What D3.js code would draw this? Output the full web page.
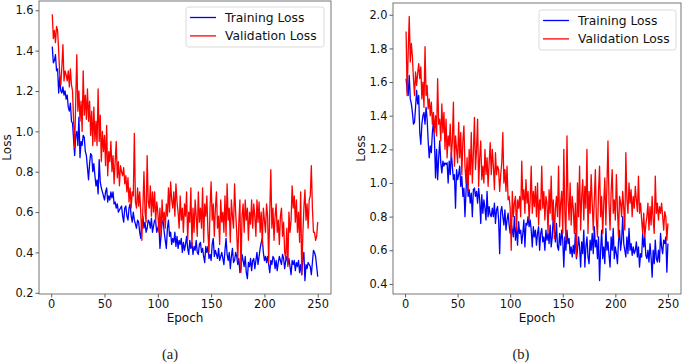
<!DOCTYPE html>
<html>
<head>
<meta charset="utf-8">
<script src="https://cdn.jsdelivr.net/npm/d3@7"></script>
<style>
  body { margin: 0; background: #fff; }
  text { font-family: "DejaVu Sans", sans-serif; }
</style>
</head>
<body>
<div id="chart"></div>
<script>
// loss values per epoch (1..250)
const trainA = [
  1.42,1.34,1.35,1.38,1.30,1.31,1.19,1.27,1.20,1.19,
  1.22,1.18,1.20,1.16,1.18,1.12,1.10,1.14,1.05,1.04,
  0.96,0.88,0.98,1.00,0.93,1.07,0.87,0.95,0.93,0.98,
  0.97,0.90,0.88,0.82,0.76,0.84,0.89,0.88,0.80,0.84,
  0.78,0.73,0.76,0.69,0.86,0.75,0.72,0.70,0.68,0.66,
  0.70,0.72,0.65,0.68,0.66,0.70,0.67,0.70,0.64,0.65,
  0.62,0.64,0.60,0.61,0.62,0.63,0.58,0.55,0.62,0.63,
  0.58,0.56,0.62,0.64,0.58,0.55,0.60,0.56,0.54,0.52,
  0.56,0.55,0.50,0.47,0.55,0.58,0.52,0.55,0.50,0.52,
  0.56,0.55,0.52,0.57,0.50,0.53,0.56,0.55,0.50,0.52,
  0.54,0.42,0.48,0.55,0.56,0.50,0.46,0.42,0.52,0.56,
  0.48,0.50,0.44,0.47,0.45,0.50,0.43,0.48,0.42,0.46,
  0.44,0.47,0.40,0.45,0.41,0.44,0.48,0.42,0.39,0.46,
  0.42,0.45,0.39,0.43,0.41,0.46,0.40,0.39,0.44,0.45,
  0.40,0.42,0.38,0.35,0.43,0.40,0.43,0.37,0.39,0.36,
  0.44,0.47,0.38,0.41,0.39,0.37,0.42,0.36,0.38,0.40,
  0.37,0.34,0.41,0.47,0.39,0.36,0.40,0.32,0.38,0.42,
  0.35,0.36,0.40,0.38,0.34,0.37,0.30,0.32,0.39,0.36,
  0.33,0.38,0.30,0.27,0.35,0.33,0.37,0.31,0.36,0.37,
  0.32,0.36,0.40,0.34,0.38,0.42,0.45,0.47,0.40,0.36,
  0.38,0.35,0.38,0.34,0.30,0.36,0.34,0.38,0.37,0.32,
  0.36,0.31,0.35,0.38,0.36,0.34,0.39,0.37,0.32,0.36,
  0.38,0.34,0.37,0.33,0.29,0.36,0.34,0.36,0.31,0.35,
  0.33,0.36,0.30,0.34,0.29,0.37,0.40,0.26,0.34,0.32,
  0.35,0.34,0.33,0.29,0.35,0.41,0.40,0.38,0.33,0.28
];
const valA = [
  1.58,1.46,1.50,1.44,1.52,1.50,1.40,1.28,1.23,1.32,
  1.43,1.25,1.30,1.28,1.25,1.30,1.22,1.31,1.23,1.20,
  1.05,0.92,1.15,1.38,1.10,1.20,1.05,1.15,1.00,1.30,
  1.08,1.18,1.06,1.21,1.05,1.15,0.98,1.10,0.93,1.12,
  0.95,1.05,0.93,1.21,0.95,1.08,0.85,1.00,0.90,0.98,
  0.83,1.03,0.78,0.90,0.85,0.95,0.80,0.88,0.74,0.85,
  0.95,0.77,0.85,0.73,0.83,0.80,0.78,0.82,0.74,0.78,
  0.70,0.77,0.65,0.72,0.62,0.70,0.68,0.99,0.65,0.62,
  0.72,0.63,0.70,0.60,0.46,0.62,0.80,0.60,0.55,0.88,
  0.65,0.62,0.73,0.58,0.70,0.60,0.70,0.55,0.65,0.60,
  0.50,0.62,0.48,0.66,0.55,0.60,0.52,0.64,0.58,0.72,
  0.60,0.75,0.66,0.62,0.70,0.58,0.74,0.65,0.60,0.52,
  0.68,0.56,0.62,0.50,0.64,0.58,0.70,0.46,0.60,0.55,
  0.72,0.43,0.62,0.50,0.66,0.58,0.48,0.70,0.55,0.62,
  0.52,0.72,0.45,0.64,0.58,0.68,0.50,0.40,0.62,0.75,
  0.56,0.64,0.48,0.62,0.70,0.52,0.58,0.44,0.66,0.55,
  0.60,0.50,0.68,0.48,0.74,0.56,0.62,0.45,0.66,0.58,
  0.52,0.74,0.60,0.50,0.36,0.55,0.66,0.30,0.58,0.64,
  0.50,0.66,0.56,0.62,0.46,0.60,0.54,0.66,0.52,0.64,
  0.58,0.48,0.66,0.55,0.65,0.50,0.60,0.44,0.62,0.56,
  0.50,0.64,0.58,0.35,0.60,0.81,0.52,0.62,0.46,0.58,
  0.64,0.50,0.56,0.44,0.58,0.62,0.48,0.55,0.40,0.37,
  0.52,0.33,0.60,0.50,0.56,0.73,0.62,0.68,0.55,0.66,
  0.50,0.60,0.45,0.70,0.29,0.48,0.62,0.71,0.56,0.64,
  0.52,0.66,0.68,0.83,0.62,0.50,0.50,0.46,0.48,0.55
];
const trainB = [
  1.62,1.55,1.52,1.64,1.50,1.47,1.42,1.35,1.36,1.45,
  1.55,1.47,1.52,1.30,1.23,1.35,1.40,1.42,1.35,1.45,
  1.38,1.25,1.15,1.22,1.18,1.30,1.36,1.25,1.03,1.20,
  1.02,1.15,1.25,1.12,1.06,1.13,1.10,1.12,1.11,1.12,
  1.00,1.13,1.05,1.18,1.10,1.02,1.05,0.85,1.08,1.02,
  1.05,1.10,0.98,1.04,0.92,0.97,0.80,0.95,1.08,0.92,
  0.96,0.88,0.94,0.80,0.96,0.97,0.92,0.95,0.88,0.97,
  0.90,0.76,0.93,0.82,0.90,0.85,0.78,0.95,0.80,0.86,
  0.81,0.80,0.85,0.80,0.88,0.76,0.84,0.86,0.78,0.58,
  0.83,0.86,0.80,0.75,0.84,0.72,0.78,0.82,0.75,0.70,
  0.76,0.72,0.68,0.80,0.66,0.74,0.63,0.77,0.70,0.72,
  0.64,0.70,0.78,0.62,0.76,0.75,0.80,0.74,0.78,0.72,
  0.62,0.74,0.68,0.72,0.63,0.70,0.74,0.60,0.70,0.73,
  0.65,0.68,0.60,0.72,0.66,0.70,0.64,0.75,0.62,0.68,
  0.80,0.72,0.65,0.76,0.62,0.60,0.70,0.63,0.72,0.66,
  0.50,0.68,0.60,0.72,0.64,0.67,0.58,0.62,0.56,0.63,
  0.58,0.70,0.55,0.60,0.68,0.62,0.50,0.65,0.58,0.72,
  0.50,0.62,0.68,0.56,0.52,0.66,0.60,0.70,0.58,0.74,
  0.62,0.66,0.55,0.68,0.42,0.60,0.72,0.55,0.62,0.52,
  0.73,0.60,0.65,0.57,0.50,0.68,0.60,0.73,0.55,0.62,
  0.58,0.52,0.65,0.72,0.60,0.66,0.80,0.64,0.60,0.56,
  0.68,0.58,0.73,0.60,0.64,0.57,0.62,0.58,0.60,0.65,
  0.56,0.62,0.50,0.58,0.56,0.70,0.62,0.68,0.57,0.55,
  0.60,0.53,0.64,0.56,0.44,0.60,0.52,0.66,0.55,0.53,
  0.60,0.53,0.70,0.62,0.58,0.66,0.64,0.68,0.47,0.64
];
const valB = [
  1.90,1.52,1.78,1.99,1.72,1.83,1.75,1.62,1.52,1.66,
  1.58,1.65,1.71,1.62,1.69,1.50,1.60,1.45,1.81,1.52,
  1.58,1.44,1.50,1.40,1.48,1.35,1.42,1.30,1.40,1.28,
  1.62,1.35,1.38,1.25,1.47,1.30,1.42,1.20,1.38,1.15,
  1.28,1.22,1.35,1.15,1.25,1.48,1.10,1.28,1.20,1.12,
  1.36,1.15,1.30,1.05,1.25,1.34,1.10,1.00,1.15,0.95,
  1.20,1.05,1.30,1.00,1.18,1.39,1.08,1.20,1.38,0.98,
  1.15,1.25,1.02,1.10,1.00,1.20,1.05,1.15,0.98,1.12,
  1.24,1.05,1.20,1.10,0.96,1.18,1.05,1.10,1.08,0.95,
  1.05,1.12,1.30,1.00,1.08,0.95,1.10,0.90,0.92,0.85,
  0.60,0.95,0.80,0.88,0.92,0.72,0.90,0.85,0.92,0.80,
  1.13,0.90,0.96,0.82,1.02,0.88,0.95,0.78,0.90,1.10,
  0.82,0.95,0.86,0.98,0.80,1.00,0.75,0.90,0.84,1.10,
  0.85,0.95,0.78,0.92,0.88,0.70,0.96,0.82,1.04,0.78,
  0.90,0.67,0.85,0.92,0.80,1.10,0.74,0.88,0.95,0.70,
  1.20,0.82,0.66,1.28,0.90,0.78,1.00,0.75,0.92,0.85,
  0.70,0.88,0.56,1.00,0.80,1.10,0.72,0.92,1.02,0.78,
  0.98,0.85,1.20,0.70,0.95,0.82,1.05,0.88,0.72,0.90,
  1.08,0.78,0.68,0.95,1.10,0.80,0.92,0.70,0.88,1.03,
  0.75,0.98,1.25,0.88,0.72,0.95,1.08,0.82,0.90,0.78,
  1.05,0.85,0.68,0.92,0.88,0.80,0.95,0.85,0.72,1.18,
  0.90,0.82,1.00,0.88,0.96,0.80,0.92,0.85,0.98,0.90,
  0.83,1.04,0.82,0.88,0.78,0.70,0.82,0.68,0.75,0.80,
  0.88,0.72,0.86,0.75,0.92,0.78,0.70,1.04,0.82,0.88,
  0.78,0.86,0.82,0.88,0.80,0.72,0.83,0.80,0.66,0.76
];
const xTicks = [0, 50, 100, 150, 200, 250];
const yTicksA = [0.2, 0.4, 0.6, 0.8, 1.0, 1.2, 1.4, 1.6];
const yTicksB = [0.4, 0.6, 0.8, 1.0, 1.2, 1.4, 1.6, 1.8, 2.0];
const seriesNames = ["Training Loss", "Validation Loss"];
const seriesColors = ["#0000ff", "#ff0000"];

const svg = d3.select("#chart")
  .append("svg")
  .attr("width", 685)
  .attr("height", 363);

function panel(box, train, val, yDomain, yTicks, caption, legendBox) {
  const x = d3.scaleLinear().domain([-11.45, 262.45]).range([box.left, box.right]);
  const y = d3.scaleLinear().domain(yDomain).range([box.bottom, box.top]);
  const g = svg.append("g");

  // lines
  const line = d3.line()
    .x((d, i) => x(i + 1))
    .y(d => y(d));
  [train, val].forEach((s, k) => {
    g.append("path")
      .datum(s)
      .attr("d", line)
      .attr("fill", "none")
      .attr("stroke", seriesColors[k])
      .attr("stroke-width", 1.3)
      .attr("stroke-linejoin", "round");
  });

  // axes
  const xa = g.append("g")
    .attr("transform", `translate(0,${box.bottom})`)
    .call(d3.axisBottom(x).tickValues(xTicks).tickSize(3.5).tickPadding(2).tickFormat(d3.format("d")));
  const ya = g.append("g")
    .attr("transform", `translate(${box.left},0)`)
    .call(d3.axisLeft(y).tickValues(yTicks).tickSize(3.5).tickPadding(2).tickFormat(d3.format(".1f")));
  [xa, ya].forEach(a => {
    a.select(".domain").remove();
    a.selectAll(".tick line").attr("stroke", "#333").attr("stroke-width", 0.8);
    a.selectAll(".tick text")
      .attr("font-family", "DejaVu Sans, sans-serif")
      .attr("font-size", 11.4)
      .attr("fill", "#111");
  });

  // frame
  g.append("rect")
    .attr("x", box.left).attr("y", box.top)
    .attr("width", box.right - box.left).attr("height", box.bottom - box.top)
    .attr("fill", "none").attr("stroke", "#666").attr("stroke-width", 0.9);

  // axis labels
  g.append("text")
    .attr("x", (box.left + box.right) / 2).attr("y", 321.5)
    .attr("text-anchor", "middle").attr("font-size", 12).attr("fill", "#111")
    .text("Epoch");
  g.append("text")
    .attr("transform", `translate(${box.left - 28.5},${(box.top + box.bottom) / 2}) rotate(-90)`)
    .attr("text-anchor", "middle").attr("font-size", 12).attr("fill", "#111")
    .text("Loss");

  // caption
  g.append("text")
    .attr("x", caption.x).attr("y", 359)
    .attr("text-anchor", "middle")
    .style("font-family", "'Liberation Serif', serif")
    .attr("font-size", 14.5).attr("fill", "#222")
    .text(caption.text);

  // legend
  const lg = g.append("g").attr("transform", `translate(${legendBox.x},${legendBox.y})`);
  lg.append("rect")
    .attr("width", legendBox.w).attr("height", 40)
    .attr("rx", 2.5)
    .attr("fill", "#fff").attr("fill-opacity", 0.8)
    .attr("stroke", "#d0d0d0").attr("stroke-width", 0.8);
  seriesNames.forEach((n, k) => {
    const cy = 10.5 + k * 18.4;
    lg.append("line")
      .attr("x1", 4).attr("x2", 30).attr("y1", cy).attr("y2", cy)
      .attr("stroke", seriesColors[k]).attr("stroke-width", 1.3);
    lg.append("text")
      .attr("x", 39).attr("y", cy + 4.3)
      .attr("font-size", 12.3).attr("fill", "#111")
      .text(n);
  });
}

panel({left: 39, right: 331, top: 1, bottom: 294}, trainA, valA, [0.194, 1.646], yTicksA,
  {x: 170, text: "(a)"}, {x: 186, y: 7, w: 138});
panel({left: 393, right: 681, top: 3, bottom: 294}, trainB, valB, [0.34, 2.07], yTicksB,
  {x: 521, text: "(b)"}, {x: 539, y: 10, w: 137});
</script>
</body>
</html>
